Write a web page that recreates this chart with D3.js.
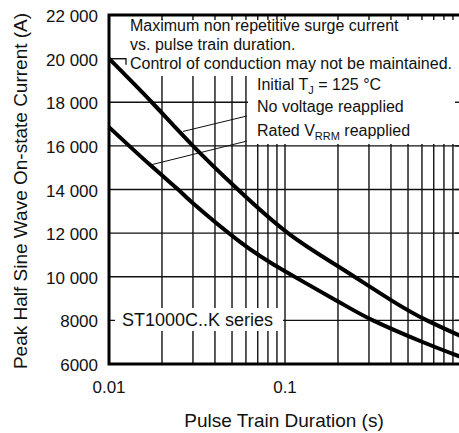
<!DOCTYPE html>
<html>
<head>
<meta charset="utf-8">
<script src="https://cdn.jsdelivr.net/npm/d3@7"></script>
<style>
  html, body { margin: 0; padding: 0; background: #fff; }
  svg { display: block; font-family: "Liberation Sans", Arial, sans-serif; }
</style>
</head>
<body>
<div id="chart"></div>
<script>
// ---- data ----
const noVoltT = [0.01, 0.0175, 0.03, 0.054, 0.104, 0.2, 0.4, 0.64, 1.0];
const noVoltI = [20000, 18000, 16000, 14000, 12000, 10480, 8930, 8000, 7280];

const ratedT = [0.01, 0.0171, 0.0247, 0.03, 0.0555, 0.1, 0.2, 0.316, 0.6, 1.0];
const ratedI = [16860, 15130, 14000, 13370, 11600, 10250, 8870, 8000, 7020, 6320];

const xTickValues = [0.01, 0.1];
const xTickLabels = ["0.01", "0.1"];
const yTickValues = [6000, 8000, 10000, 12000, 14000, 16000, 18000, 20000, 22000];
const yTickLabels = ["6000", "8000", "10 000", "12 000", "14 000", "16 000", "18 000", "20 000", "22 000"];
const xGridValues = [0.02, 0.03, 0.04, 0.05, 0.06, 0.07, 0.08, 0.09, 0.1,
                     0.2, 0.3, 0.4, 0.5, 0.6, 0.7, 0.8, 0.9];
const rightTickValues = [8000, 10000, 12000, 14000, 16000, 18000];

const W = 459, H = 433;
const svg = d3.select("#chart").append("svg").attr("width", W).attr("height", H);

const x = d3.scaleLog().domain([0.01, 1]).range([109, 461]);
const y = d3.scaleLinear().domain([6000, 22000]).range([364, 15]);

const X0 = x.range()[0], X1 = x.range()[1], Y0 = y.range()[0], Y1 = y.range()[1];

// gridlines
const grid = svg.append("g").attr("stroke", "#111").attr("stroke-width", 1.4);
grid.selectAll(".gx").data(xGridValues).enter().append("line")
  .attr("x1", d => x(d)).attr("x2", d => x(d)).attr("y1", Y0).attr("y2", Y1);
grid.selectAll(".gy").data(yTickValues).enter().append("line")
  .attr("x1", X0).attr("x2", X1).attr("y1", d => y(d)).attr("y2", d => y(d));

// white boxes for annotations
svg.append("rect").attr("x", 126).attr("y", Y1).attr("width", X1 - 126).attr("height", 76 - Y1).attr("fill", "#fff");
svg.append("rect").attr("x", 248).attr("y", Y1).attr("width", X1 - 248).attr("height", 144 - Y1).attr("fill", "#fff");
svg.append("rect").attr("x", 115).attr("y", 308).attr("width", 168).attr("height", 23).attr("fill", "#fff");

// small stub on 20 000 line
svg.append("path").attr("d", `M${X0},${y(20000)}H126V${y(20000) + 6}`)
  .attr("fill", "none").attr("stroke", "#111").attr("stroke-width", 1.3);

// inner ticks on top and right borders
const ticks = svg.append("g").attr("stroke", "#111").attr("stroke-width", 1.4);
ticks.selectAll(".tt").data(xGridValues).enter().append("line")
  .attr("x1", d => x(d)).attr("x2", d => x(d)).attr("y1", Y1).attr("y2", Y1 + 5);
ticks.selectAll(".tr").data(rightTickValues).enter().append("line")
  .attr("x1", X1 - 6).attr("x2", X1).attr("y1", d => y(d)).attr("y2", d => y(d));

// leader lines (data coordinates)
const leaders = [
  [[0.0263, 16660], [0.0608, 17370]],
  [[0.0171, 15120], [0.0608, 16220]]
];
svg.selectAll(".leader").data(leaders).enter().append("line")
  .attr("x1", d => x(d[0][0])).attr("y1", d => y(d[0][1]))
  .attr("x2", d => x(d[1][0])).attr("y2", d => y(d[1][1]))
  .attr("stroke", "#111").attr("stroke-width", 1);

// curves
const line = d3.line().x(d => x(d[0])).y(d => y(d[1])).curve(d3.curveNatural);
const series = [d3.zip(noVoltT, noVoltI), d3.zip(ratedT, ratedI)];
svg.selectAll(".curve").data(series).enter().append("path")
  .attr("d", line).attr("fill", "none").attr("stroke", "#000")
  .attr("stroke-width", 4).attr("stroke-linejoin", "round");

// border
svg.append("rect").attr("x", X0).attr("y", Y1).attr("width", X1 - X0).attr("height", Y0 - Y1)
  .attr("fill", "none").attr("stroke", "#000").attr("stroke-width", 3);

// axis labels
svg.selectAll(".yl").data(yTickValues).enter().append("text")
  .attr("x", 98).attr("y", d => y(d) + 7).attr("text-anchor", "end")
  .attr("font-size", 17).attr("fill", "#111")
  .text((d, i) => yTickLabels[i]);
svg.selectAll(".xl").data(xTickValues).enter().append("text")
  .attr("x", d => x(d)).attr("y", 393).attr("text-anchor", "middle")
  .attr("font-size", 17).attr("fill", "#111")
  .text((d, i) => xTickLabels[i]);

svg.append("text").attr("x", 284).attr("y", 427).attr("text-anchor", "middle")
  .attr("font-size", 19).attr("fill", "#111").text("Pulse Train Duration (s)");
svg.append("text").attr("transform", "translate(27,191) rotate(-90)").attr("text-anchor", "middle")
  .attr("font-size", 19).attr("fill", "#111").text("Peak Half Sine Wave On-state Current (A)");

// annotations
const ann = svg.append("g").attr("font-size", 16).attr("fill", "#111");
ann.append("text").attr("x", 130).attr("y", 31).text("Maximum non repetitive surge current");
ann.append("text").attr("x", 130).attr("y", 50).text("vs. pulse train duration.");
ann.append("text").attr("x", 130).attr("y", 69).text("Control of conduction may not be maintained.");
const t1 = ann.append("text").attr("x", 257).attr("y", 90);
t1.append("tspan").text("Initial T");
t1.append("tspan").attr("font-size", 11).attr("dy", 4).text("J");
t1.append("tspan").attr("dy", -4).text(" = 125 °C");
ann.append("text").attr("x", 257).attr("y", 112).text("No voltage reapplied");
const t2 = ann.append("text").attr("x", 257).attr("y", 136);
t2.append("tspan").text("Rated V");
t2.append("tspan").attr("font-size", 11).attr("dy", 4).text("RRM");
t2.append("tspan").attr("dy", -4).text(" reapplied");
svg.append("text").attr("x", 122).attr("y", 326).attr("font-size", 18).attr("fill", "#111")
  .text("ST1000C..K series");
</script>
</body>
</html>
